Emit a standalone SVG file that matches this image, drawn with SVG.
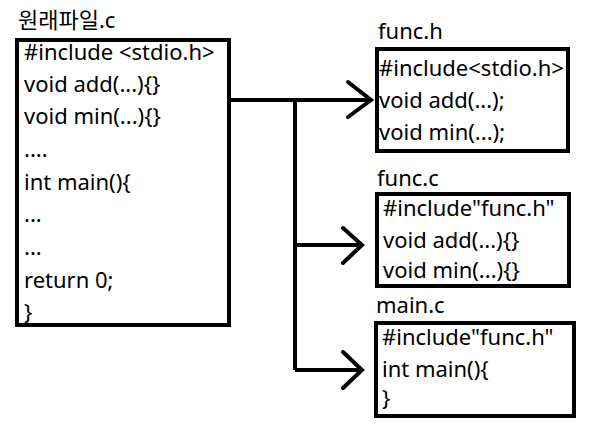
<svg xmlns="http://www.w3.org/2000/svg" width="589" height="428" viewBox="0 0 589 428">
<style>
text{font-family:"Noto Sans","Noto Sans CJK KR",sans-serif;font-size:22px;fill:#000}
.box{fill:#fff;stroke:#000;stroke-width:4}
.ln{fill:none;stroke:#000;stroke-width:4;stroke-linecap:butt}
.ah{fill:none;stroke:#000;stroke-width:4;stroke-linecap:round;stroke-linejoin:miter}
</style>
<rect width="589" height="428" fill="#fff"/>
<g id="connectors">
<path class="ln" d="M229,100 H370"/>
<path class="ln" d="M295,100 V370"/>
<path class="ln" d="M295,245 H361"/>
<path class="ln" d="M295,370 H361"/>
<path class="ah" d="M348,82 L371,100 L348,117"/>
<path class="ah" d="M343,228 L362,245 L343,263"/>
<path class="ah" d="M343,352 L362,370 L343,388"/>
</g>
<g id="original">
<text x="18" y="28">원래파일.c</text>
<rect class="box" x="17" y="40" width="212" height="285"/>
<text x="24" y="60">#include &lt;stdio.h&gt;</text>
<text x="24" y="92">void add(...){}</text>
<text x="24" y="124">void min(...){}</text>
<text x="24" y="157">....</text>
<text x="24" y="190">int main(){</text>
<text x="24" y="222">...</text>
<text x="24" y="255">...</text>
<text x="24" y="288">return 0;</text>
<text x="24" y="320">}</text>
</g>
<g id="func_h">
<text x="378" y="39">func.h</text>
<rect class="box" x="377" y="49" width="191" height="102"/>
<text x="379" y="76">#include&lt;stdio.h&gt;</text>
<text x="379" y="108">void add(...);</text>
<text x="379" y="140">void min(...);</text>
</g>
<g id="func_c">
<text x="377" y="186">func.c</text>
<rect class="box" x="377" y="194" width="192" height="92"/>
<text x="383" y="216">#include"func.h"</text>
<text x="383" y="248">void add(...){}</text>
<text x="383" y="278">void min(...){}</text>
</g>
<g id="main_c">
<text x="376" y="313">main.c</text>
<rect class="box" x="376" y="323" width="198" height="93"/>
<text x="382" y="345">#include"func.h"</text>
<text x="382" y="377">int main(){</text>
<text x="382" y="406">}</text>
</g>
</svg>
